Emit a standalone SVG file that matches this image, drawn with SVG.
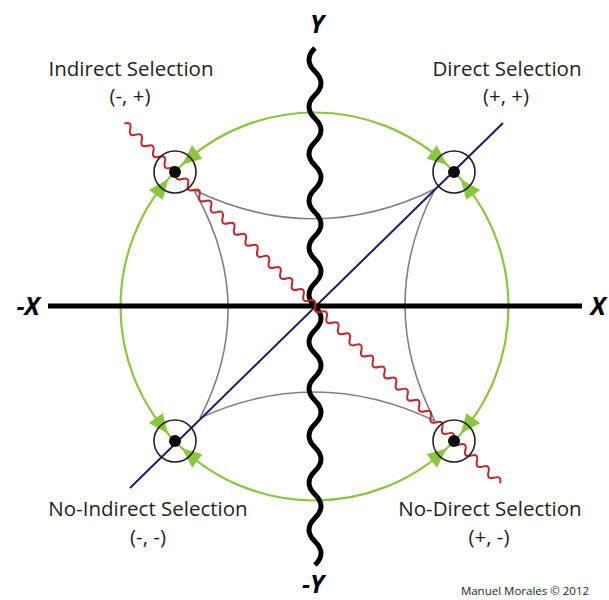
<svg xmlns="http://www.w3.org/2000/svg" xmlns:xlink="http://www.w3.org/1999/xlink" width="609" height="600" viewBox="0 0 609 600">
<style>
  .lbl { font-family: "Open Sans", "Liberation Sans", sans-serif; font-size: 20.5px; fill: #231f20; text-anchor: middle; }
  .ax { font-family: "Open Sans", "Liberation Sans", sans-serif; font-size: 25px; font-weight: bold; font-style: italic; fill: #000; text-anchor: middle; }
  .cr { font-family: "Open Sans", "Liberation Sans", sans-serif; font-size: 11.5px; fill: #231f20; text-anchor: middle; }
  .ring { fill: none; stroke: #231f20; stroke-width: 1.6; }
  .dot { fill: #0d0d0d; }
  .gray { fill: none; stroke: #808080; stroke-width: 1.6; }
  .arr { fill: #8cc63f; }
</style>
<defs>
  <g id="arrs">
    <polygon class="arr" points="193.74,9.99 200.08,31.19 183.28,28.57"/>
    <polygon class="arr" points="193.74,-9.99 200.08,-31.19 183.28,-28.57"/>
  </g>
</defs>
<rect width="609" height="600" fill="#fff"/>
<g id="connectors">
  <circle cx="314.5" cy="306.5" r="194" fill="none" stroke="#8cc63f" stroke-width="2.2"/>
  <use xlink:href="#arrs" transform="translate(314.5,306.5) rotate(-136.04)"/>
  <use xlink:href="#arrs" transform="translate(314.5,306.5) rotate(-43.96)"/>
  <use xlink:href="#arrs" transform="translate(314.5,306.5) rotate(136.04)"/>
  <use xlink:href="#arrs" transform="translate(314.5,306.5) rotate(43.96)"/>
  <path class="gray" d="M194,190 Q315,248 435,189"/>
  <path class="gray" d="M194,190 Q259,304 200,418"/>
  <path class="gray" d="M435,189 Q375,305 435,421"/>
  <path class="gray" d="M200,418 Q317,364.5 435,421"/>
  <line x1="130" y1="488" x2="503" y2="123" stroke="#1b1a6b" stroke-width="2"/>
  <line x1="48" y1="306" x2="582" y2="306" stroke="#000" stroke-width="5"/>
  <path fill="none" stroke="#000" stroke-width="5" d="M315,48 q-12,11.75 0,23.5 t0,23.5 t0,23.5 t0,23.5 t0,23.5 t0,23.5 t0,23.5 t0,23.5 t0,23.5 t0,23.5 t0,23.5 t0,23.5 t0,23.5 t0,23.5 t0,23.5 t0,23.5 t0,23.5 t0,23.5 t0,23.5 t0,23.5 t0,23.5 t0,23.5"/>
  <path fill="none" stroke="#c1272d" stroke-width="2" transform="translate(124.4,123.6) rotate(43.75)" d="M0,0 q4,-7 8,0 t8,0 t8,0 t8,0 t8,0 t8,0 t8,0 t8,0 t8,0 t8,0 t8,0 t8,0 t8,0 t8,0 t8,0 t8,0 t8,0 t8,0 t8,0 t8,0 t8,0 t8,0 t8,0 t8,0 t8,0 t8,0 t8,0 t8,0 t8,0 t8,0 t8,0 t8,0 t8,0 t8,0 t8,0 t8,0 t8,0 t8,0 t8,0 t8,0 t8,0 t8,0 t8,0 t8,0 t8,0 t8,0 t8,0 t8,0 t8,0 t8,0 t8,0 t8,0 t8,0 t8,0 t8,0 t8,0 t8,0 t8,0 t8,0 t8,0 t8,0 t8,0 t8,0 t8,0 t8,0"/>
</g>
<g id="node-indirect">
  <circle class="ring" cx="175" cy="172" r="21"/>
  <circle class="dot" cx="175" cy="172" r="6"/>
  <text class="lbl" x="131" y="76">Indirect Selection</text>
  <text class="lbl" x="130" y="103">(-, +)</text>
</g>
<g id="node-direct">
  <circle class="ring" cx="454" cy="172" r="21"/>
  <circle class="dot" cx="454" cy="172" r="6"/>
  <text class="lbl" x="507" y="76">Direct Selection</text>
  <text class="lbl" x="506" y="103">(+, +)</text>
</g>
<g id="node-noindirect">
  <circle class="ring" cx="175" cy="441" r="21"/>
  <circle class="dot" cx="175" cy="441" r="6"/>
  <text class="lbl" x="148" y="516">No-Indirect Selection</text>
  <text class="lbl" x="148" y="544">(-, -)</text>
</g>
<g id="node-nodirect">
  <circle class="ring" cx="454" cy="441" r="21"/>
  <circle class="dot" cx="454" cy="441" r="6"/>
  <text class="lbl" x="490" y="516">No-Direct Selection</text>
  <text class="lbl" x="489" y="544">(+, -)</text>
</g>
<g id="axis-labels">
  <text class="ax" x="317" y="33">Y</text>
  <text class="ax" x="313" y="593">-Y</text>
  <text class="ax" x="28" y="315">-X</text>
  <text class="ax" x="598" y="315">X</text>
</g>
<text class="cr" x="525" y="595">Manuel Morales © 2012</text>
</svg>
